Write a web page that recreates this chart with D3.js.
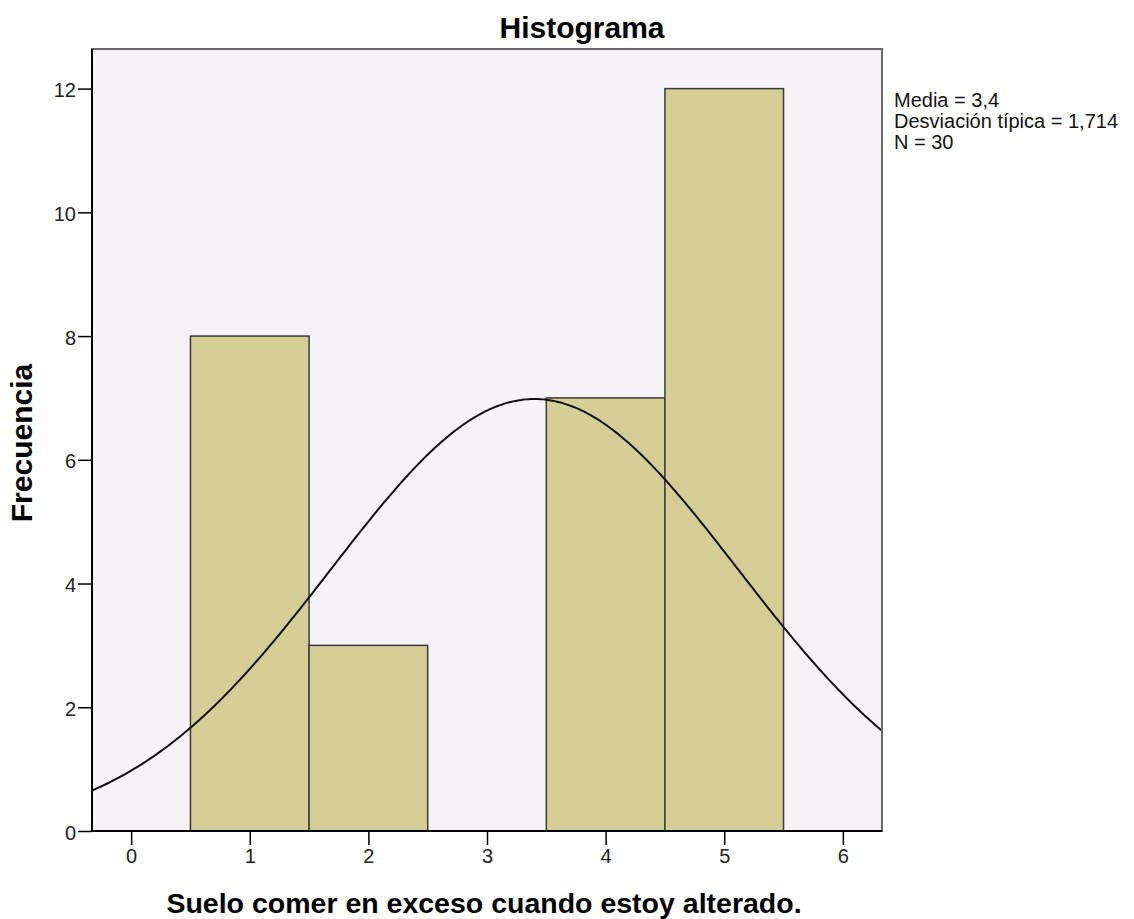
<!DOCTYPE html>
<html>
<head>
<meta charset="utf-8">
<script src="https://cdn.jsdelivr.net/npm/d3@7"></script>
<style>
  body { margin: 0; background: #fff; }
  text { font-family: "Liberation Sans", Arial, sans-serif; }
</style>
</head>
<body>
<svg id="chart" width="1134" height="919"></svg>
<script>
// histogram bins (centre of each bin) and counts
const binCenters = [1, 2, 3, 4, 5];
const counts = [8, 3, 0, 7, 12];
const xTicks = [0, 1, 2, 3, 4, 5, 6];
const yTicks = [0, 2, 4, 6, 8, 10, 12];
const stats = { media: 3.4, sd: 1.714, n: 30 };
const statLines = ["Media = 3,4", "Desviación típica = 1,714", "N = 30"];

const margin = { top: 49, right: 252, bottom: 88, left: 92 };
const width = 1134 - margin.left - margin.right;
const height = 919 - margin.top - margin.bottom;

const svg = d3.select("#chart");
const g = svg.append("g").attr("transform", `translate(${margin.left},${margin.top})`);

const x = d3.scaleLinear().domain([-0.33, 6.33]).range([0, width]);
const y = d3.scaleLinear().domain([0, 12.64]).range([height, 0]);

// plot background
g.append("rect")
    .attr("width", width).attr("height", height)
    .attr("fill", "#f6f2f6");

// bars
g.selectAll("rect.bar")
    .data(binCenters.map((c, i) => ({ c, v: counts[i] })).filter(d => d.v > 0))
    .join("rect")
    .attr("class", "bar")
    .attr("x", d => x(d.c - 0.5))
    .attr("width", d => x(d.c + 0.5) - x(d.c - 0.5))
    .attr("y", d => y(d.v))
    .attr("height", d => y(0) - y(d.v))
    .attr("fill", "#d4ce96")
    .attr("stroke", "#3a3a3a")
    .attr("stroke-width", 1.5);

// fitted normal curve (from media, sd and N shown in the chart)
const peak = stats.n * 1 / (stats.sd * Math.sqrt(2 * Math.PI));
const xs = d3.range(-0.33, 6.335, 0.02);
const line = d3.line()
    .x(d => x(d))
    .y(d => y(peak * Math.exp(-0.5 * Math.pow((d - stats.media) / stats.sd, 2))))
    .curve(d3.curveBasis);
g.append("path")
    .datum(xs)
    .attr("d", line)
    .attr("fill", "none")
    .attr("stroke", "#111")
    .attr("stroke-width", 2);

// frame
g.append("rect")
    .attr("width", width).attr("height", height)
    .attr("fill", "none")
    .attr("stroke", "#6a6a6a")
    .attr("stroke-width", 2);

// axes
const xAxis = g.append("g")
    .attr("transform", `translate(0,${height})`)
    .call(d3.axisBottom(x).tickValues(xTicks).tickSize(14).tickPadding(4).tickFormat(d3.format("d")));
const yAxis = g.append("g")
    .call(d3.axisLeft(y).tickValues(yTicks).tickSize(14).tickPadding(2).tickFormat(d3.format("d")));

[xAxis, yAxis].forEach(a => {
    a.select(".domain").remove();
    a.selectAll("line").attr("stroke", "#000").attr("stroke-width", 1.5);
    a.selectAll("text").attr("fill", "#222").style("font-size", "20px")
        .style("font-family", "'Liberation Sans', Arial, sans-serif");
});
yAxis.selectAll("text").attr("dy", "0.4em");

g.append("line").attr("x1", 0).attr("x2", 0).attr("y1", 0).attr("y2", height)
    .attr("stroke", "#000").attr("stroke-width", 2);
g.append("line").attr("x1", 0).attr("x2", width).attr("y1", height).attr("y2", height)
    .attr("stroke", "#000").attr("stroke-width", 2);

// titles
svg.append("text")
    .attr("x", 582).attr("y", 38)
    .attr("text-anchor", "middle")
    .style("font-size", "30px").style("font-weight", "bold")
    .text("Histograma");

svg.append("text")
    .attr("x", margin.left + width / 2 - 3).attr("y", 913)
    .attr("text-anchor", "middle")
    .style("font-size", "28.5px").style("font-weight", "bold")
    .text("Suelo comer en exceso cuando estoy alterado.");

svg.append("text")
    .attr("transform", `translate(32,${margin.top + height / 2 + 3}) rotate(-90)`)
    .attr("text-anchor", "middle")
    .style("font-size", "30px").style("font-weight", "bold")
    .text("Frecuencia");

// stats box
svg.append("g").selectAll("text")
    .data(statLines)
    .join("text")
    .attr("x", 894)
    .attr("y", (d, i) => 107 + i * 21)
    .style("font-size", "20px")
    .attr("fill", "#111")
    .text(d => d);
</script>
</body>
</html>
